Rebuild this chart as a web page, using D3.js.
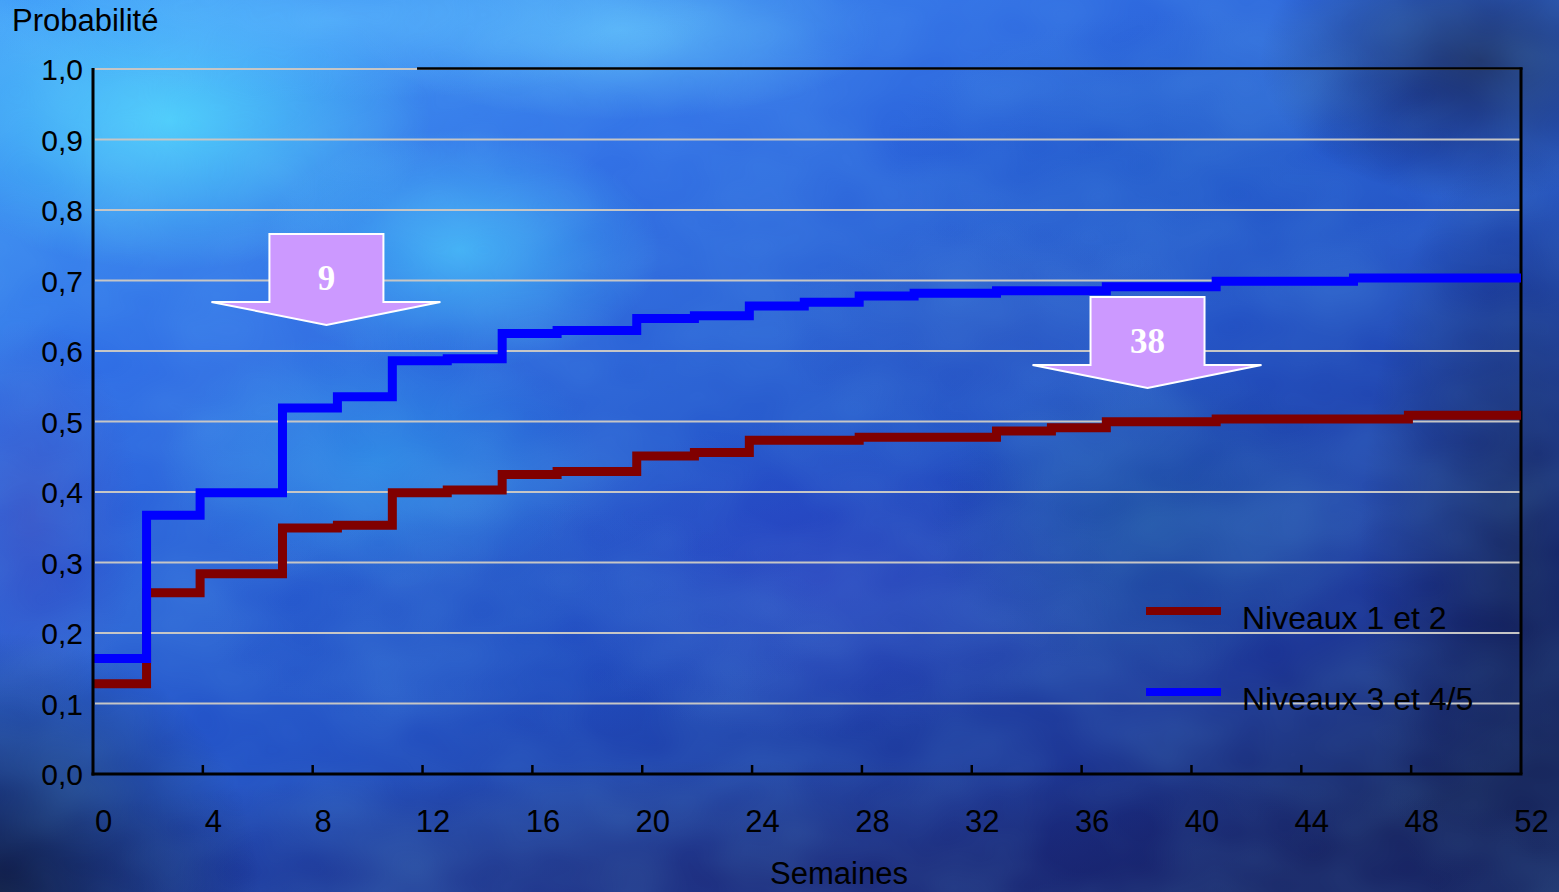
<!DOCTYPE html>
<html>
<head>
<meta charset="utf-8">
<script src="https://cdn.jsdelivr.net/npm/d3@7"></script>
<style>
  html, body { margin: 0; padding: 0; background: #1a2a78; overflow: hidden; }
  svg { display: block; }
</style>
</head>
<body>
<div id="chart"></div>
<script>
// ── Data ──────────────────────────────────────────────────────────
const xTicks = [0, 4, 8, 12, 16, 20, 24, 28, 32, 36, 40, 44, 48, 52];
const yTicks = [0, 0.1, 0.2, 0.3, 0.4, 0.5, 0.6, 0.7, 0.8, 0.9, 1.0];

const seriesNames = ['Niveaux 1 et 2', 'Niveaux 3 et 4/5'];
const seriesColors = ['#800000', '#0000ff'];

// step weeks and cumulative probability after each step
const weeksLow  = [0, 1.95, 3.9, 6.9, 8.9, 10.9, 12.9, 14.9, 16.9, 19.8, 21.9, 23.9, 27.9, 32.9, 34.9, 36.9, 40.9, 47.9, 52];
const probLow   = [0.128, 0.257, 0.284, 0.349, 0.353, 0.399, 0.403, 0.425, 0.429, 0.451, 0.456, 0.4735, 0.4775, 0.4865, 0.491, 0.4995, 0.5035, 0.509, 0.509];

const weeksHigh = [0, 1.95, 3.9, 6.9, 8.9, 10.9, 12.9, 14.9, 16.9, 19.8, 21.9, 23.9, 25.9, 27.9, 29.9, 32.9, 36.9, 40.9, 45.9, 52];
const probHigh  = [0.164, 0.367, 0.399, 0.519, 0.535, 0.586, 0.589, 0.625, 0.629, 0.646, 0.650, 0.664, 0.669, 0.678, 0.682, 0.6855, 0.691, 0.699, 0.7035, 0.7035];

// arrow call-outs: label, week at the tip, probability at the tip
const calloutLabels = ['9', '38'];
const calloutWeeks  = [8.5, 38.4];
const calloutTips   = [0.637, 0.5475];

// ── Layout ────────────────────────────────────────────────────────
const W = 1559, H = 892;
const margin = { left: 93, right: 38, top: 69, bottom: 118 };
const FONT = "'Liberation Sans', Arial, sans-serif";

const svg = d3.select('#chart').append('svg').attr('width', W).attr('height', H);
const defs = svg.append('defs');

// Cloudy blue background: base gradient + soft radial blobs + noise
const base = defs.append('linearGradient').attr('id', 'bg-base')
    .attr('x1', 0).attr('y1', 0).attr('x2', 0.8).attr('y2', 1);
base.append('stop').attr('offset', '0%').attr('stop-color', '#3f9cf8');
base.append('stop').attr('offset', '30%').attr('stop-color', '#2f6ce4');
base.append('stop').attr('offset', '60%').attr('stop-color', '#2250c4');
base.append('stop').attr('offset', '85%').attr('stop-color', '#1c3494');
base.append('stop').attr('offset', '100%').attr('stop-color', '#141f5a');
svg.append('rect').attr('width', W).attr('height', H).attr('fill', 'url(#bg-base)');

const blobs = [
    { cx: 170, cy: 120, rx: 260, ry: 150, c: '#55e4ff', o: 0.75 },
    { cx: 460, cy: 250, rx: 200, ry: 120, c: '#4fd6ff', o: 0.65 },
    { cx: 620, cy: 30, rx: 260, ry: 90, c: '#6ad0ff', o: 0.6 },
    { cx: 330, cy: 20, rx: 380, ry: 80, c: '#5ab8ff', o: 0.6 },
    { cx: 380, cy: 460, rx: 220, ry: 130, c: '#2fb0f4', o: 0.45 },
    { cx: 30, cy: 520, rx: 110, ry: 200, c: '#3a40b8', o: 0.6 },
    { cx: 820, cy: 580, rx: 300, ry: 160, c: '#3038c0', o: 0.5 },
    { cx: 1180, cy: 160, rx: 300, ry: 150, c: '#2460c8', o: 0.5 },
    { cx: 1480, cy: 60, rx: 220, ry: 140, c: '#141c4c', o: 0.85 },
    { cx: 1520, cy: 560, rx: 160, ry: 420, c: '#101a4c', o: 0.8 },
    { cx: 800, cy: 880, rx: 900, ry: 120, c: '#1a2472', o: 0.8 },
    { cx: 0, cy: 892, rx: 260, ry: 260, c: '#0a0f30', o: 0.9 },
    { cx: 1150, cy: 520, rx: 220, ry: 160, c: '#1e5a98', o: 0.45 },
    { cx: 520, cy: 620, rx: 320, ry: 120, c: '#1f4cc0', o: 0.45 },
    { cx: 990, cy: 330, rx: 220, ry: 110, c: '#2c50b8', o: 0.35 }
];
blobs.forEach((b, i) => {
    const g = defs.append('radialGradient').attr('id', `blob-${i}`);
    g.append('stop').attr('offset', '0%').attr('stop-color', b.c).attr('stop-opacity', b.o);
    g.append('stop').attr('offset', '100%').attr('stop-color', b.c).attr('stop-opacity', 0);
    svg.append('ellipse')
        .attr('cx', b.cx).attr('cy', b.cy).attr('rx', b.rx).attr('ry', b.ry)
        .attr('fill', `url(#blob-${i})`);
});

const noise = defs.append('filter').attr('id', 'clouds').attr('x', 0).attr('y', 0).attr('width', '100%').attr('height', '100%');
noise.append('feTurbulence').attr('type', 'fractalNoise').attr('baseFrequency', '0.006 0.009')
    .attr('numOctaves', 3).attr('seed', 7);
noise.append('feColorMatrix').attr('type', 'matrix')
    .attr('values', '0 0 0 0 0.2  0 0 0 0 0.7  0 0 0 0 1  0 0 0 -1.3 1.05');
svg.append('rect').attr('width', W).attr('height', H).attr('filter', 'url(#clouds)').attr('opacity', 0.2);

// ── Scales ────────────────────────────────────────────────────────
const x = d3.scaleLinear().domain([0, 52]).range([margin.left, W - margin.right]);
const y = d3.scaleLinear().domain([0, 1]).range([H - margin.bottom, margin.top]);
const fmt = d => d.toFixed(1).replace('.', ',');

// gridlines
svg.append('g').selectAll('line')
    .data(yTicks.filter(d => d > 0))
    .join('line')
    .attr('x1', x(0) + 2).attr('x2', x(52))
    .attr('y1', d => y(d)).attr('y2', d => y(d))
    .attr('stroke', '#c6c6c6').attr('stroke-width', 2.2);

// partial top border and right border
svg.append('line').attr('x1', x(11.8)).attr('x2', x(52) + 1.5)
    .attr('y1', y(1) - 0.5).attr('y2', y(1) - 0.5)
    .attr('stroke', '#000').attr('stroke-width', 2.5);
svg.append('line').attr('x1', x(52)).attr('x2', x(52))
    .attr('y1', y(1) - 1.5).attr('y2', y(0))
    .attr('stroke', '#000').attr('stroke-width', 3);

// ── Step curves ───────────────────────────────────────────────────
const line = d3.line().curve(d3.curveStepAfter).x(d => x(d[0])).y(d => y(d[1]));
const series = [d3.zip(weeksLow, probLow), d3.zip(weeksHigh, probHigh)];
svg.append('g').selectAll('path')
    .data(series)
    .join('path')
    .attr('d', line)
    .attr('fill', 'none')
    .attr('stroke', (d, i) => seriesColors[i])
    .attr('stroke-width', 9)
    .attr('stroke-linejoin', 'miter')
    .attr('stroke-linecap', 'butt');

// ── Axes ──────────────────────────────────────────────────────────
const xAxis = svg.append('g').attr('transform', `translate(0,${y(0)})`)
    .call(d3.axisBottom(x).tickValues(xTicks).tickSize(0).tickFormat(d3.format('d')).tickPadding(0));
xAxis.select('.domain').remove();
xAxis.selectAll('text')
    .attr('x', 10).attr('y', 58).attr('dy', 0)
    .attr('fill', '#000').attr('font-size', 31).attr('font-family', FONT);
svg.append('g').selectAll('line')
    .data(xTicks.filter(d => d > 0 && d < 52))
    .join('line')
    .attr('x1', d => x(d)).attr('x2', d => x(d))
    .attr('y1', y(0)).attr('y2', y(0) - 9)
    .attr('stroke', '#000').attr('stroke-width', 2.5);

const yAxis = svg.append('g').attr('transform', `translate(${x(0)},0)`)
    .call(d3.axisLeft(y).tickValues(yTicks).tickSize(0).tickFormat(fmt).tickPadding(10));
yAxis.select('.domain').remove();
yAxis.selectAll('text')
    .attr('dy', '0.36em')
    .attr('fill', '#000').attr('font-size', 30).attr('font-family', FONT);

svg.append('line').attr('x1', x(0)).attr('x2', x(0))
    .attr('y1', y(1) - 1).attr('y2', y(0) + 1.5)
    .attr('stroke', '#000').attr('stroke-width', 3);
svg.append('line').attr('x1', x(0) - 1.5).attr('x2', x(52) + 1.5)
    .attr('y1', y(0)).attr('y2', y(0))
    .attr('stroke', '#000').attr('stroke-width', 3);

svg.append('text').attr('x', 12).attr('y', 31)
    .attr('font-size', 31).attr('font-family', FONT).attr('fill', '#000')
    .text('Probabilité');
svg.append('text').attr('x', 839).attr('y', 884).attr('text-anchor', 'middle')
    .attr('font-size', 31).attr('font-family', FONT).attr('fill', '#000')
    .text('Semaines');

// ── Legend ────────────────────────────────────────────────────────
const legend = svg.append('g').attr('transform', 'translate(1146,611)');
const item = legend.selectAll('g').data(seriesNames).join('g')
    .attr('transform', (d, i) => `translate(0,${i * 81})`);
item.append('line').attr('x1', 0).attr('x2', 75)
    .attr('stroke', (d, i) => seriesColors[i]).attr('stroke-width', 8);
item.append('text').attr('x', 96).attr('y', 18)
    .attr('font-size', 32).attr('font-family', FONT).attr('fill', '#000')
    .text(d => d);

// ── Arrow call-outs ───────────────────────────────────────────────
const callouts = svg.append('g').selectAll('g')
    .data(d3.range(calloutLabels.length))
    .join('g')
    .attr('transform', i => `translate(${x(calloutWeeks[i])},${y(calloutTips[i])})`);
callouts.append('path')
    .attr('d', 'M-57,-91 L57,-91 L57,-23 L114,-23 L0,0 L-115,-23 L-57,-23 Z')
    .attr('fill', '#cc99ff').attr('stroke', '#fff').attr('stroke-width', 2)
    .attr('stroke-linejoin', 'miter');
callouts.append('text')
    .attr('x', 0).attr('y', -35).attr('text-anchor', 'middle')
    .attr('font-size', 35).attr('font-weight', 'bold')
    .attr('font-family', "'Liberation Serif', 'Times New Roman', serif")
    .attr('fill', '#fff')
    .text(i => calloutLabels[i]);
</script>
</body>
</html>
